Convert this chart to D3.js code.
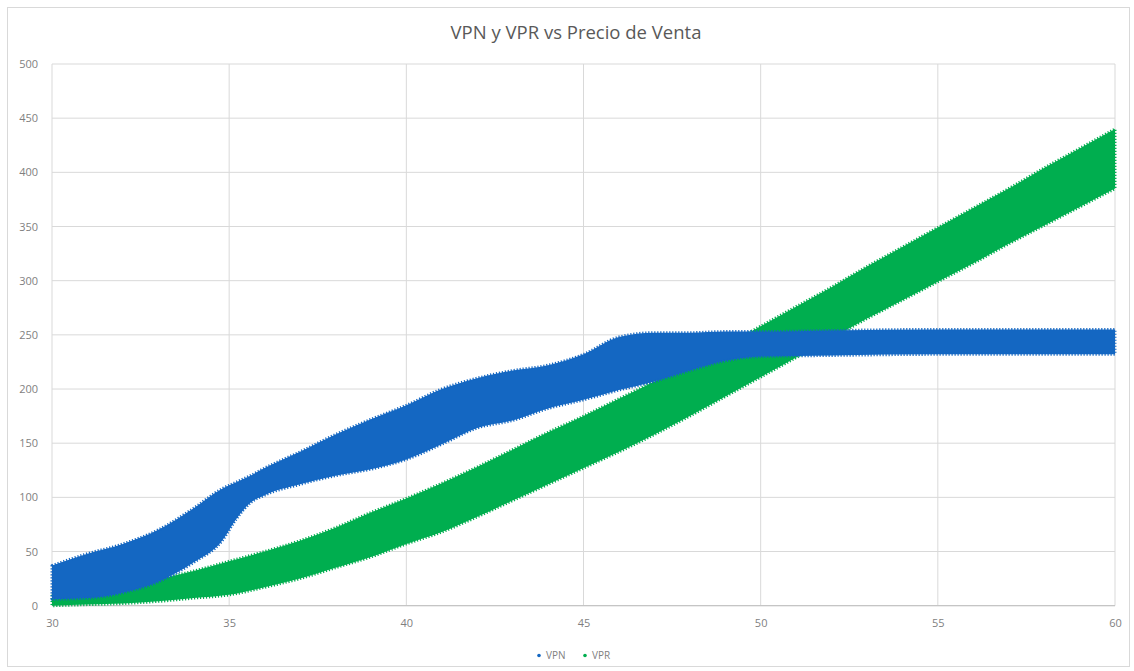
<!DOCTYPE html>
<html><head><meta charset="utf-8">
<script src="https://cdn.jsdelivr.net/npm/d3@7"></script>
<style>body{margin:0;background:#fff}svg{display:block}text{font-family:"Open Sans",sans-serif}</style>
</head><body><svg id="c" width="1134" height="671"></svg>
<script>
const title = "VPN y VPR vs Precio de Venta";
const xTicks = [30,35,40,45,50,55,60];
const yTicks = [0,50,100,150,200,250,300,350,400,450,500];
// Band edges (price -> value)
const vpnX     = [30,31,32,33,34,34.8,35.2,35.6,36,37,38,39,40,41,42,43,44,45,46,47,48,49,50,52,55,58,60];
const vpnUpper = [37,48,57,70,90,108,114,120,127,142,158,172,185,200,210,217,222,232,248,252,252,253,253,254,255,255,255];
const vpnLower = [6,7,12,22,40,60,80,95,102,112,120,126,135,149,164,171,182,190,199,207,217,226,230,231,232,232,232];
const vprX     = [30,31,32,33,34,35,36,37,38,39,40,41,42,43,44,45,46,47,48,49,50,51,52,53,54,55,56,57,58,59,60];
const vprUpper = [9,10,15,24,32,41,50,60,72,86,99,113,128,144,160,175,191,207,223,240,258,276,294,313,331,349,367,385,404,422,440];
const vprLower = [0,1,2,4,7,10,17,25,35,45,57,68,82,97,112,127,142,158,175,193,211,229,247,265,282,299,316,334,351,368,385];

const svg = d3.select("#c");
const m={l:52,r:1115,t:64,b:605.7};
const x=d3.scaleLinear().domain([30,60]).range([m.l,m.r]);
const y=d3.scaleLinear().domain([0,500]).range([m.b,m.t]);

svg.append("rect").attr("x",7.5).attr("y",7.5).attr("width",1122).attr("height",659)
  .attr("fill","#fff").attr("stroke","#d9d9d9");

svg.append("text").attr("x",576).attr("y",39).attr("text-anchor","middle")
  .attr("font-size",18.5).attr("fill","#595959").text(title);

// gridlines
svg.append("g").selectAll("line").data(yTicks).join("line")
  .attr("x1",m.l).attr("x2",m.r).attr("y1",d=>y(d)).attr("y2",d=>y(d))
  .attr("stroke","#d9d9d9").attr("stroke-width",1);
svg.append("g").selectAll("line").data(xTicks).join("line")
  .attr("y1",m.t).attr("y2",m.b).attr("x1",d=>x(d)).attr("x2",d=>x(d))
  .attr("stroke","#d9d9d9").attr("stroke-width",1);
svg.append("line").attr("x1",m.l).attr("x2",m.r).attr("y1",y(0)).attr("y2",y(0)).attr("stroke","#bfbfbf");

// axes labels
const yAxis=d3.axisLeft(y).tickValues(yTicks).tickSize(0).tickPadding(14);
const gy=svg.append("g").attr("transform",`translate(${m.l},0)`).call(yAxis);
gy.select(".domain").remove();
gy.selectAll("text").attr("font-size",11).attr("fill","#7f7f7f").style("font-family","Open Sans");
const xAxis=d3.axisBottom(x).tickValues(xTicks).tickSize(0).tickPadding(14);
const gx=svg.append("g").attr("transform",`translate(0,${m.b})`).call(xAxis);
gx.select(".domain").remove();
gx.selectAll("text").attr("font-size",11).attr("fill","#7f7f7f").style("font-family","Open Sans");

const blue="#1467C2", green="#00AE4F";
function band(xs,lo,hi){ return xs.map((v,i)=>({x:v,lo:lo[i],hi:hi[i]})); }
const area=d3.area().x(d=>x(d.x)).y0(d=>y(d.lo)).y1(d=>y(d.hi)).curve(d3.curveMonotoneX);
function drawBand(data,col){
  svg.append("path").datum(data).attr("d",area).attr("fill",col)
   .attr("stroke",col).attr("stroke-width",3).attr("stroke-dasharray","1.2 1.8").attr("stroke-linejoin","round");
}
drawBand(band(vprX,vprLower,vprUpper),green);
drawBand(band(vpnX,vpnLower,vpnUpper),blue);

// legend
const leg=svg.append("g").attr("transform","translate(0,659)");
const items=[{n:"VPN",c:blue,x:539},{n:"VPR",c:green,x:585}];
items.forEach(it=>{
  leg.append("circle").attr("cx",it.x).attr("cy",-3.5).attr("r",1.8).attr("fill",it.c);
  leg.append("text").attr("x",it.x+7).attr("y",0).attr("font-size",10).attr("fill","#7f7f7f").text(it.n);
});
</script></body></html>
